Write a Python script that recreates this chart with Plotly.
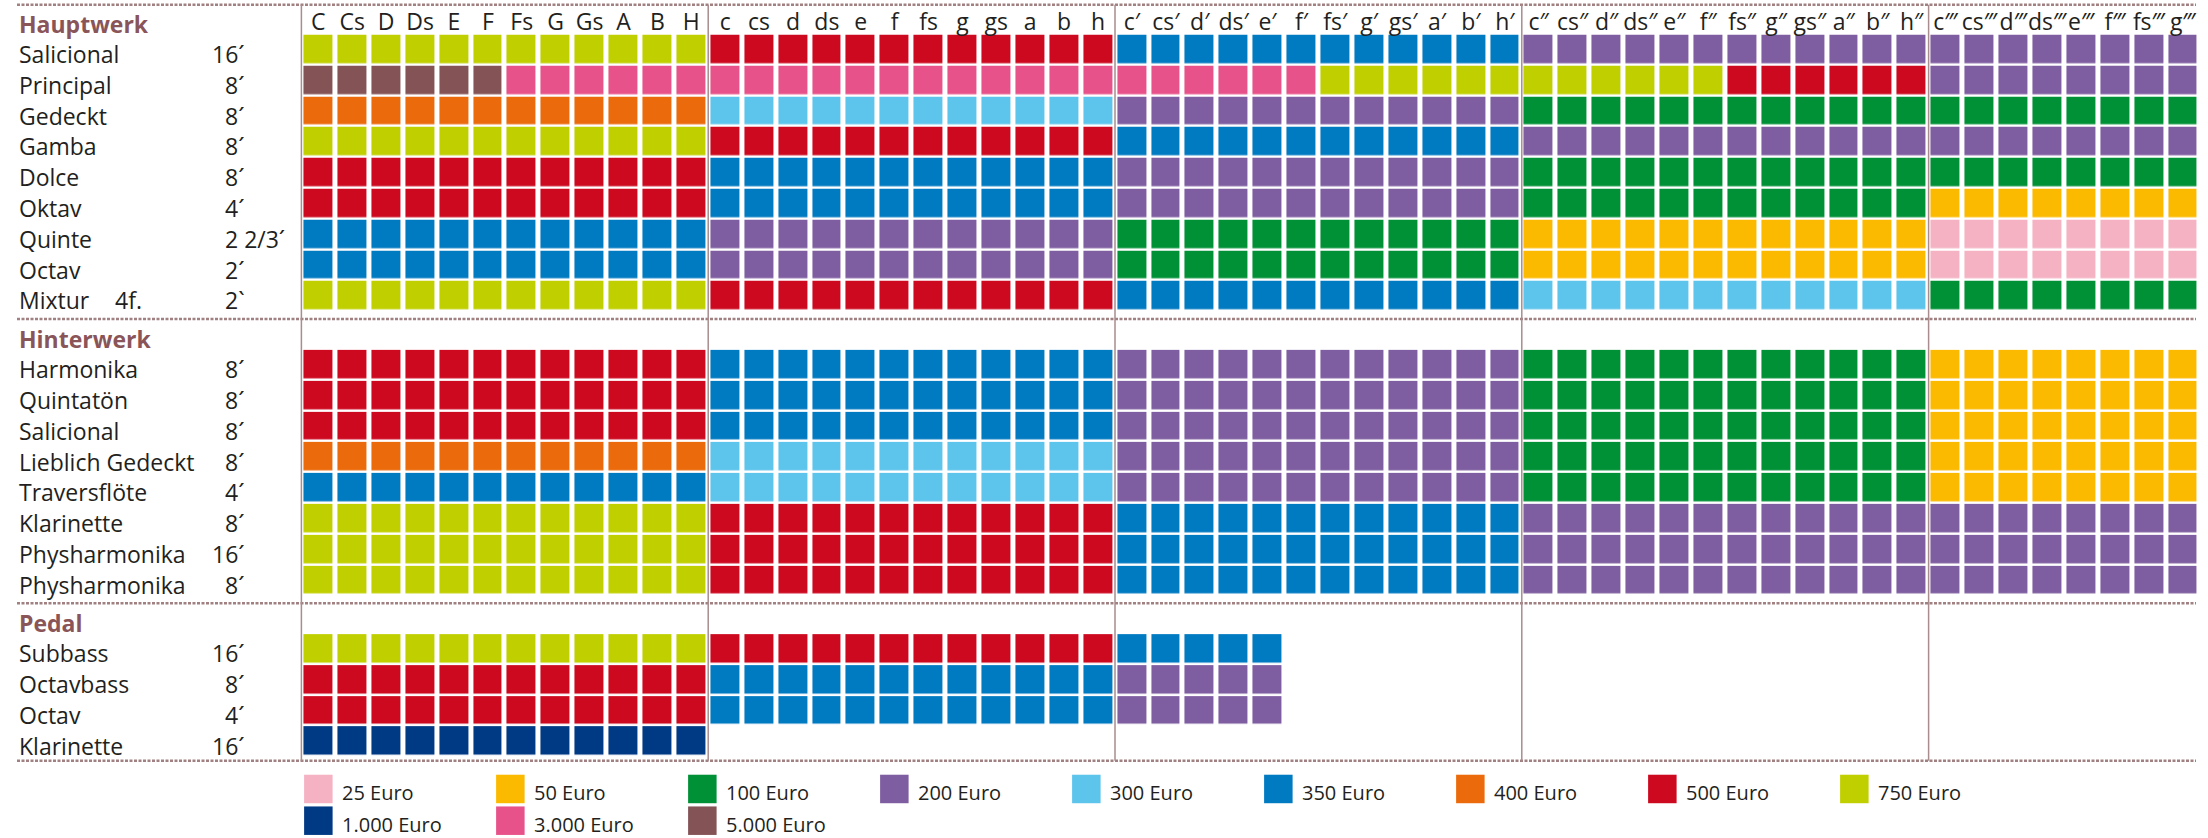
import plotly.graph_objects as go

# ---------------- data ----------------
notes = ["C", "Cs", "D", "Ds", "E", "F", "Fs", "G", "Gs", "A", "B", "H",
         "c", "cs", "d", "ds", "e", "f", "fs", "g", "gs", "a", "b", "h",
         "c′", "cs′", "d′", "ds′", "e′", "f′", "fs′", "g′", "gs′", "a′", "b′", "h′",
         "c″", "cs″", "d″", "ds″", "e″", "f″", "fs″", "g″", "gs″", "a″", "b″", "h″",
         "c‴", "cs‴", "d‴", "ds‴", "e‴", "f‴", "fs‴", "g‴"]

prices = [25, 50, 100, 200, 300, 350, 400, 500, 750, 1000, 3000, 5000]
price_labels = ["25 Euro", "50 Euro", "100 Euro", "200 Euro", "300 Euro", "350 Euro",
                "400 Euro", "500 Euro", "750 Euro", "1.000 Euro", "3.000 Euro", "5.000 Euro"]
price_colors = ["#F4B2C3", "#FBBA00", "#009036", "#7E5DA0", "#5DC4EC", "#007AC1",
                "#EB6B0C", "#CD0920", "#C0CF00", "#003A85", "#E7528A", "#845356"]

section_names = ["Hauptwerk", "Hinterwerk", "Pedal"]

hauptwerk_stops = ["Salicional", "Principal", "Gedeckt", "Gamba", "Dolce", "Oktav",
                   "Quinte", "Octav", "Mixtur"]
hauptwerk_feet = ["16´", "8´", "8´", "8´", "8´", "4´", "2 2/3´", "2´", "2`"]
hauptwerk_runs = [
    [(750, 12), (500, 12), (350, 12), (200, 20)],
    [(5000, 6), (3000, 24), (750, 12), (500, 6), (200, 8)],
    [(400, 12), (300, 12), (200, 12), (100, 20)],
    [(750, 12), (500, 12), (350, 12), (200, 20)],
    [(500, 12), (350, 12), (200, 12), (100, 20)],
    [(500, 12), (350, 12), (200, 12), (100, 12), (50, 8)],
    [(350, 12), (200, 12), (100, 12), (50, 12), (25, 8)],
    [(350, 12), (200, 12), (100, 12), (50, 12), (25, 8)],
    [(750, 12), (500, 12), (350, 12), (300, 12), (100, 8)],
]

hinterwerk_stops = ["Harmonika", "Quintatön", "Salicional", "Lieblich Gedeckt",
                    "Traversflöte", "Klarinette", "Physharmonika", "Physharmonika"]
hinterwerk_feet = ["8´", "8´", "8´", "8´", "4´", "8´", "16´", "8´"]
hinterwerk_runs = [
    [(500, 12), (350, 12), (200, 12), (100, 12), (50, 8)],
    [(500, 12), (350, 12), (200, 12), (100, 12), (50, 8)],
    [(500, 12), (350, 12), (200, 12), (100, 12), (50, 8)],
    [(400, 12), (300, 12), (200, 12), (100, 12), (50, 8)],
    [(350, 12), (300, 12), (200, 12), (100, 12), (50, 8)],
    [(750, 12), (500, 12), (350, 12), (200, 20)],
    [(750, 12), (500, 12), (350, 12), (200, 20)],
    [(750, 12), (500, 12), (350, 12), (200, 20)],
]

pedal_stops = ["Subbass", "Octavbass", "Octav", "Klarinette"]
pedal_feet = ["16´", "8´", "4´", "16´"]
pedal_runs = [
    [(750, 12), (500, 12), (350, 5)],
    [(500, 12), (350, 12), (200, 5)],
    [(500, 12), (350, 12), (200, 5)],
    [(1000, 12)],
]

mixtur_extra = "4f."

# ---------------- layout helpers ----------------
W, H = 2208, 838
COL0_PX, COL_PITCH = 318.35, 33.9      # pixel centre of first column, column pitch
ROW0_PX, ROW_PITCH = 49.15, 30.8       # pixel centre of first row, row pitch
NCOL = len(notes)


def px_col(px):
    return (px - COL0_PX) / COL_PITCH


def px_row(py):
    return (py - ROW0_PX) / ROW_PITCH


def expand(runs):
    row = []
    for p, n in runs:
        row += [prices.index(p)] * n
    row += [None] * (NCOL - len(row))
    return row


section_stops = [hauptwerk_stops, hinterwerk_stops, pedal_stops]
section_feet = [hauptwerk_feet, hinterwerk_feet, pedal_feet]
section_runs = [hauptwerk_runs, hinterwerk_runs, pedal_runs]

SECTION_GAP = 2.23     # rows from last row of a section to first row of next
starts = []
r = 0.0
for stops in section_stops:
    starts.append(r)
    r += len(stops) - 1 + SECTION_GAP

n = len(prices)
colorscale = []
for k, c in enumerate(price_colors):
    colorscale.append([k / n, c])
    colorscale.append([(k + 1) / n, c])

fig = go.Figure()

TXT = "#231f20"
HEAD = "#8a5558"
FONT = "Open Sans, Noto Sans, DejaVu Sans, sans-serif"

annotations = []
for s, (stops, feet, runs) in enumerate(zip(section_stops, section_feet, section_runs)):
    ys = [starts[s] + i for i in range(len(stops))]
    z = [expand(rr) for rr in runs]
    fig.add_trace(go.Heatmap(
        z=z, x=list(range(NCOL)), y=ys, zmin=-0.5, zmax=n - 0.5,
        colorscale=colorscale, showscale=False, xgap=5, ygap=2.5,
        hoverinfo="skip"))
    # section header
    annotations.append(dict(x=px_col(17), y=starts[s] - 0.82, text="<b>%s</b>" % section_names[s],
                            xanchor="left", yanchor="middle", showarrow=False,
                            font=dict(family=FONT, size=23, color=HEAD)))
    for i, (name, ft) in enumerate(zip(stops, feet)):
        yy = ys[i] + 0.16
        annotations.append(dict(x=px_col(17), y=yy, text=name, xanchor="left", yanchor="middle",
                                showarrow=False, font=dict(family=FONT, size=23, color=TXT)))
        fx = px_col(210) if ft[:2].isdigit() else px_col(223)
        annotations.append(dict(x=fx, y=yy, text=ft, xanchor="left", yanchor="middle",
                                showarrow=False, font=dict(family=FONT, size=23, color=TXT)))
        if s == 0 and name == "Mixtur":
            annotations.append(dict(x=px_col(113), y=yy, text=mixtur_extra, xanchor="left",
                                    yanchor="middle", showarrow=False,
                                    font=dict(family=FONT, size=23, color=TXT)))

# column headers (note names)
fig.add_trace(go.Scatter(
    x=list(range(NCOL)), y=[-0.82] * NCOL, mode="text", text=notes,
    textposition="middle center", textfont=dict(family=FONT, size=23, color=TXT),
    hoverinfo="skip", showlegend=False))

# legend
last_row = starts[-1] + len(pedal_stops) - 1
LEG_PER_ROW = 9
LEG_PITCH = 192 / COL_PITCH
leg_x = [(k % LEG_PER_ROW) * LEG_PITCH for k in range(n)]
leg_y = [last_row + 1.56 + 1.03 * (k // LEG_PER_ROW) for k in range(n)]
fig.add_trace(go.Scatter(
    x=leg_x, y=leg_y, mode="markers",
    marker=dict(symbol="square", size=28.5, color=price_colors, line=dict(width=0)),
    hoverinfo="skip", showlegend=False))
for k in range(n):
    annotations.append(dict(x=leg_x[k] + 0.64, y=leg_y[k] + 0.12, text=price_labels[k],
                            xanchor="left", yanchor="middle", showarrow=False,
                            font=dict(family=FONT, size=20, color=TXT)))

# separator lines
shapes = []
top_line = px_row(4.7)
sep_rows = [top_line]
for s, stops in enumerate(section_stops):
    sep_rows.append(starts[s] + len(stops) - 1 + (0.76 if s < 2 else 0.64))
for yv in sep_rows:
    shapes.append(dict(type="line", xref="x", yref="y", x0=px_col(17), x1=px_col(2196),
                       y0=yv, y1=yv, line=dict(color="#a08080", width=2.5, dash="3px,1.5px")))
for xv in [-0.5, 11.5, 23.5, 35.5, 47.5]:
    shapes.append(dict(type="line", xref="x", yref="y", x0=xv, x1=xv,
                       y0=top_line, y1=sep_rows[-1], line=dict(color="#a88c8e", width=1.5)))

fig.update_layout(
    width=W, height=H, margin=dict(l=0, r=0, t=0, b=0),
    paper_bgcolor="white", plot_bgcolor="white", showlegend=False,
    xaxis=dict(range=[px_col(0), px_col(W)], visible=False, fixedrange=True),
    yaxis=dict(range=[px_row(H), px_row(0)], visible=False, fixedrange=True),
    annotations=annotations, shapes=shapes,
)

fig.write_html("out.html", config={"displayModeBar": False},
               post_script="document.body.style.margin='0';document.body.style.overflow='hidden';")
